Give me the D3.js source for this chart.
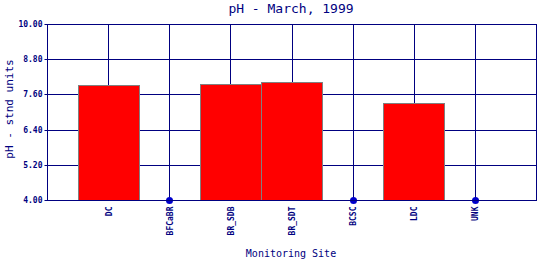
<!DOCTYPE html>
<html><head><meta charset="utf-8">
<script src="https://cdn.jsdelivr.net/npm/d3@7"></script>
<style>body{margin:0;background:#fff}svg{display:block}</style>
</head><body>
<script>
const sites = ["DC","BFCaBR","BR_SDB","BR_SDT","BCSC","LDC","UNK"];
const phValues = [7.91, null, 7.97, 8.01, null, 7.30, null];
const yTicks = [4.00, 5.20, 6.40, 7.60, 8.80, 10.00];

const W = 540, H = 260;
const m = {left: 47.5, right: 3.5, top: 24.5, bottom: 59.5};
const svg = d3.select("body").append("svg").attr("width", W).attr("height", H);
const navy = "#000080";
const font = "DejaVu Sans Mono, monospace";
const x = d3.scaleLinear().domain([0, sites.length + 1]).range([m.left, W - m.right]);
const y = d3.scaleLinear().domain([4, 10]).range([H - m.bottom, m.top]);
const snap = v => Math.round(v - 0.5) + 0.5;

// grid
svg.append("g").selectAll("line").data(yTicks).join("line")
  .attr("x1", x(0)).attr("x2", x(8)).attr("y1", d => snap(y(d))).attr("y2", d => snap(y(d)))
  .attr("stroke", navy).attr("stroke-width", 1);
svg.append("g").selectAll("line").data(sites).join("line")
  .attr("x1", (d,i) => snap(x(i+1))).attr("x2", (d,i) => snap(x(i+1)))
  .attr("y1", y(10)).attr("y2", y(4)).attr("stroke", navy).attr("stroke-width", 1);

// bars
const data = sites.map((s,i) => ({s, i, v: phValues[i]}));
svg.append("g").selectAll("rect").data(data.filter(d => d.v != null)).join("rect")
  .attr("x", d => snap(x(d.i + 0.5))).attr("width", d => Math.round(x(d.i + 1.5) - x(d.i + 0.5)))
  .attr("y", d => snap(y(d.v))).attr("height", d => y(4) - snap(y(d.v)))
  .attr("fill", "#ff0000").attr("stroke", "#808080").attr("stroke-width", 1);

// missing markers
svg.append("g").selectAll("circle").data(data.filter(d => d.v == null)).join("circle")
  .attr("cx", d => snap(x(d.i+1))).attr("cy", y(4)).attr("r", 3.5)
  .attr("fill", "#0000cc");

// frame
svg.append("rect").attr("x", x(0)).attr("y", y(10)).attr("width", x(8)-x(0)).attr("height", y(4)-y(10))
  .attr("fill", "none").attr("stroke", navy).attr("stroke-width", 1);

// y axis
const yAxis = d3.axisLeft(y).tickValues(yTicks).tickFormat(d3.format(".2f")).tickSize(3).tickPadding(2);
const ya = svg.append("g").attr("transform", `translate(${x(0)},0)`).call(yAxis);
ya.select(".domain").remove();
ya.selectAll("line").attr("stroke", navy);
ya.selectAll(".tick").attr("transform", d => `translate(0,${snap(y(d))})`);
ya.selectAll("text").attr("fill", navy).style("font-family", font)
  .style("font-size", "8px").style("font-weight", "bold");

// x axis
const xAxis = d3.axisBottom(x).tickValues(d3.range(1, 8)).tickFormat(d => sites[d-1]).tickSize(0);
const xa = svg.append("g").attr("transform", `translate(0,${y(4)})`).call(xAxis);
xa.select(".domain").remove();
xa.selectAll("text").attr("fill", navy).style("font-family", font)
  .style("font-size", "8px").style("font-weight", "bold")
  .attr("text-anchor", "end").attr("transform", "rotate(-90)").attr("x", -6).attr("y", 0).attr("dy", "0.32em");

// titles
svg.append("text").attr("x", 291).attr("y", 13).attr("text-anchor", "middle")
  .attr("fill", navy).style("font-family", font).style("font-size", "13px")
  .text("pH - March, 1999");
svg.append("text").attr("x", 291).attr("y", 257).attr("text-anchor", "middle")
  .attr("fill", navy).style("font-family", font).style("font-size", "10px")
  .text("Monitoring Site");
svg.append("text").attr("transform", `translate(13,109) rotate(-90)`).attr("text-anchor", "middle")
  .attr("fill", navy).style("font-family", font).style("font-size", "11px")
  .text("pH - stnd units");
</script>
</body></html>
